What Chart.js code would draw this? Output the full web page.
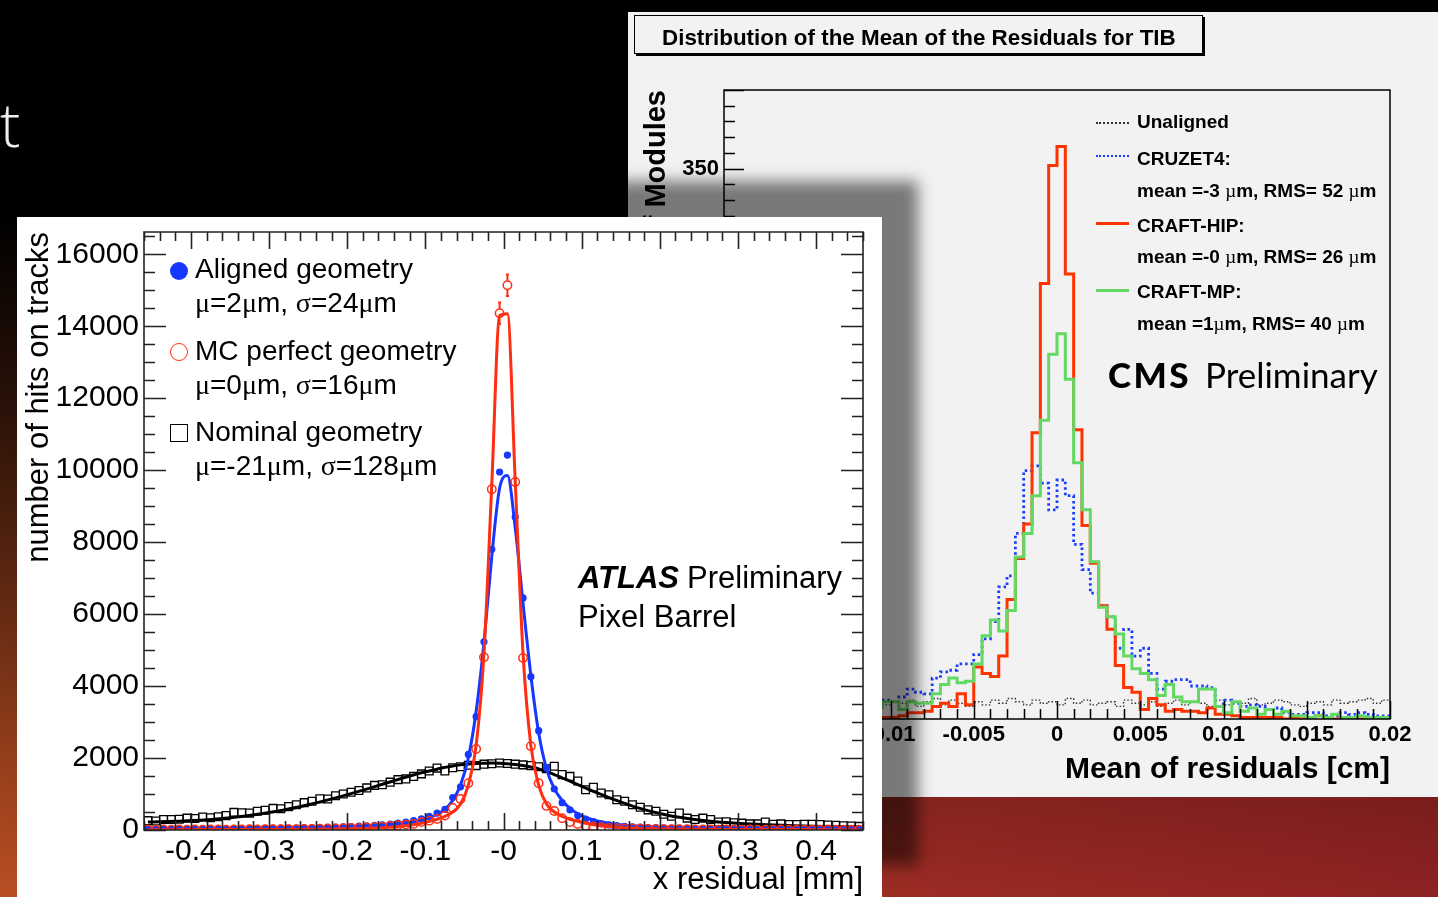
<!DOCTYPE html>
<html><head><meta charset="utf-8">
<script src="https://cdn.jsdelivr.net/npm/chart.js@4.4.1/dist/chart.umd.min.js"></script>
<style>
html,body{margin:0;padding:0;}
body{width:1438px;height:897px;overflow:hidden;position:relative;
 background:
  linear-gradient(180deg,#000 0%,#000 24%,rgba(0,0,0,.78) 45%,rgba(0,0,0,.5) 65%,rgba(0,0,0,.2) 85%,rgba(0,0,0,0) 100%),
  linear-gradient(90deg,#ba4e22 0%,#a63c20 40%,#9c2a24 65%,#8e2222 100%);}
.t{position:absolute;white-space:nowrap;line-height:1;font-family:'Liberation Sans',Arial,Helvetica,sans-serif;color:#000;}
.g{font-family:'Liberation Serif','Times New Roman',serif;}
#cms{position:absolute;left:628px;top:12px;width:830px;height:785px;background:#f2f2f2;}
#atlas{position:absolute;left:17px;top:217px;width:865px;height:684px;background:#fff;box-shadow:36px -36px 14px rgba(0,0,0,.5);}
canvas{position:absolute;left:0;top:0;}
.cmsleg{font-weight:bold;font-size:19px;}
.ln{position:absolute;left:1096px;width:33px;height:0;}
</style>
</head><body>
<div class="t" style="left:0px;top:93px;font-family:'Open Sans',sans-serif;font-weight:300;font-size:61px;color:#eee;">t</div>

<div id="cms"><canvas id="cmsCanvas" width="810" height="785" style="width:810px;height:785px"></canvas></div>
<div style="position:absolute;left:634px;top:15px;width:567px;height:37px;border:1.5px solid #000;box-shadow:2px 2px 0 #000;background:#f2f2f2;"></div>
<div class="t" style="left:662px;top:27.4px;font-weight:bold;font-size:22.4px;">Distribution of the Mean of the Residuals for TIB</div>

<div class="ln" style="top:121.5px;border-top:2px dotted #333;"></div>
<div class="ln" style="top:154.5px;border-top:2.5px dotted #1a3cff;"></div>
<div class="ln" style="top:221.8px;border-top:3px solid #ff3300;"></div>
<div class="ln" style="top:288.5px;border-top:3px solid #63d963;"></div>
<div class="t cmsleg" style="left:1137px;top:112.2px;">Unaligned</div>
<div class="t cmsleg" style="left:1137px;top:148.9px;">CRUZET4:</div>
<div class="t cmsleg" style="left:1137px;top:180.6px;">mean =-3 <span class="g" style="font-weight:normal">µ</span>m, RMS= 52 <span class="g" style="font-weight:normal">µ</span>m</div>
<div class="t cmsleg" style="left:1137px;top:215.6px;">CRAFT-HIP:</div>
<div class="t cmsleg" style="left:1137px;top:247.2px;">mean =-0 <span class="g" style="font-weight:normal">µ</span>m, RMS= 26 <span class="g" style="font-weight:normal">µ</span>m</div>
<div class="t cmsleg" style="left:1137px;top:282.2px;">CRAFT-MP:</div>
<div class="t cmsleg" style="left:1137px;top:313.9px;">mean =1<span class="g" style="font-weight:normal">µ</span>m, RMS= 40 <span class="g" style="font-weight:normal">µ</span>m</div>
<div class="t" style="left:1108px;top:357px;font-family:Lato,'Open Sans',sans-serif;font-weight:900;font-size:35px;letter-spacing:2.5px;">CMS</div>
<div class="t" style="left:1205px;top:357px;font-family:Lato,'Open Sans',sans-serif;font-weight:400;font-size:35px;">Preliminary</div>

<div id="atlas"><canvas id="atlasCanvas" width="865" height="680" style="width:865px;height:680px"></canvas></div>
<div style="position:absolute;left:170px;top:261.7px;width:18px;height:18px;border-radius:50%;background:#1537ff;"></div>
<div style="position:absolute;left:170px;top:342.7px;width:18px;height:18px;border-radius:50%;border:1.5px solid #ff2d12;box-sizing:border-box;"></div>
<div style="position:absolute;left:170px;top:424px;width:18px;height:18px;border:1.5px solid #000;box-sizing:border-box;"></div>
<div class="t" style="left:195px;top:255.3px;font-size:28px;">Aligned geometry</div>
<div class="t" style="left:195px;top:289.3px;font-size:28px;"><span class="g">μ</span>=2<span class="g">μ</span>m, <span class="g">σ</span>=24<span class="g">μ</span>m</div>
<div class="t" style="left:195px;top:337.3px;font-size:28px;">MC perfect geometry</div>
<div class="t" style="left:195px;top:371.3px;font-size:28px;"><span class="g">μ</span>=0<span class="g">μ</span>m, <span class="g">σ</span>=16<span class="g">μ</span>m</div>
<div class="t" style="left:195px;top:418.3px;font-size:28px;">Nominal geometry</div>
<div class="t" style="left:195px;top:452.3px;font-size:28px;"><span class="g">μ</span>=-21<span class="g">μ</span>m, <span class="g">σ</span>=128<span class="g">μ</span>m</div>
<div class="t" style="left:578px;top:561.8px;font-size:31px;font-weight:bold;font-style:italic;">ATLAS</div>
<div class="t" style="left:687px;top:561.8px;font-size:31px;">Preliminary</div>
<div class="t" style="left:578px;top:600.8px;font-size:31px;">Pixel Barrel</div>

<script>
// ---------------- ATLAS (Pixel Barrel x residuals) ----------------
const atlasXTicks = [-0.4, -0.3, -0.2, -0.1, 0, 0.1, 0.2, 0.3, 0.4];
const atlasXTickLabels = ['-0.4', '-0.3', '-0.2', '-0.1', '-0', '0.1', '0.2', '0.3', '0.4'];
const atlasYTicks = [0, 2000, 4000, 6000, 8000, 10000, 12000, 14000, 16000];

// bin contents, 92 bins of 0.01 mm from -0.46 to 0.46
const atlasAligned = [30,25,30,25,30,30,30,35,30,35,35,40,40,40,45,45,50,50,55,55,60,65,70,75,80,90,95,105,115,130,145,165,190,220,260,310,380,470,575,900,1200,2100,3150,5230,7800,9950,
  10420,8700,6450,4260,2760,1730,1140,760,560,400,300,230,170,140,120,100,90,80,70,65,60,55,50,45,45,40,40,35,35,35,30,30,30,30,25,30,25,25,30,25,25,25,20,25,30,40];
const atlasMc = [15,10,15,10,15,10,15,10,15,15,10,15,15,20,15,20,20,20,25,25,30,30,35,40,45,50,55,60,70,80,90,110,130,150,170,220,260,305,400,610,860,1300,2250,4800,9470,14360,
  15140,9670,4780,2330,1300,670,530,330,220,170,120,100,80,60,50,45,40,35,30,25,25,20,20,20,15,15,15,10,15,10,10,15,10,10,10,15,10,10,10,10,10,15,10,10,10,10];
const atlasNominal = [260,250,290,290,300,330,320,360,340,370,400,490,480,470,520,550,600,590,650,700,760,800,870,860,950,1000,1050,1100,1170,1240,1260,1330,1400,1420,1490,1560,1640,1720,1640,1730,1760,1800,1790,1830,1840,1860,
  1850,1830,1810,1790,1760,1700,1770,1540,1490,1360,1120,1190,1030,980,840,800,700,630,560,520,440,380,470,330,290,330,290,220,230,200,190,170,170,220,160,170,150,150,160,160,150,140,130,120,110,100];
const atlasMcErrX = [-0.015, -0.005, 0.005, 0.015];
const atlasMcErr = [110, 300, 300, 110];

// fit curves
const atlasFitX = [-0.455,-0.41,-0.37,-0.33,-0.29,-0.25,-0.21,-0.17,-0.14,-0.12,-0.105,-0.095,-0.085,-0.075,-0.065,-0.055,-0.045,-0.035,-0.025,-0.015,-0.005,
  0.005,0.015,0.025,0.035,0.045,0.055,0.065,0.075,0.085,0.095,0.105,0.12,0.14,0.17,0.21,0.25,0.29,0.33,0.37,0.41,0.455];
const atlasAlignedFit = [25,28,32,38,48,60,80,115,165,215,280,340,430,580,820,1250,2000,3300,5200,7600,9500,
  9850,8400,6300,4300,2700,1700,1150,820,600,450,350,250,170,110,75,55,45,38,32,28,25];
const atlasMcFit = [10,10,12,14,17,22,30,50,85,130,190,240,300,380,500,720,1250,2350,4900,9600,14300,
  14350,9700,4900,2350,1250,720,500,380,300,240,190,130,85,50,30,22,17,14,12,10,10];
const atlasNominalFit = [220,250,300,390,520,700,920,1170,1370,1500,1590,1640,1690,1740,1780,1810,1835,1850,1858,1860,1855,
  1840,1820,1790,1750,1700,1620,1540,1450,1360,1260,1170,1030,860,630,410,280,200,150,120,100,90];

// ---------------- CMS (TIB mean of residuals) ----------------
const cmsXTicks = [-0.02, -0.015, -0.01, -0.005, 0, 0.005, 0.01, 0.015, 0.02];
const cmsXTickLabels = ['-0.02', '-0.015', '-0.01', '-0.005', '0', '0.005', '0.01', '0.015', '0.02'];
const cmsYTicks = [0, 50, 100, 150, 200, 250, 300, 350];
// 80 bins of 0.0005 cm from -0.02 to 0.02
const cmsUnaligned = [9,11,8,12,10,9,13,11,10,12,9,11,10,13,11,9,12,10,11,
  9,11,10,12,8,11,13,9,12,10,8,11,9,12,10,13,11,9,12,10,11,9,13,10,12,9,10,11,8,12,10,9,11,8,10,12,9,11,10,8,12,9,11,10,13,9,10,12,11,9,8,10,11,9,12,10,11,12,13,10,12];
const cmsCruzet4 = [4,6,3,5,8,5,7,9,6,10,8,12,9,11,14,10,13,15,12,
  12,11,14,19,17,16,26,30,31,35,35,41,51,62,84,91,118,158,161,150,133,152,142,111,95,80,72,65,45,57,40,45,29,19,24,25,25,21,21,20,8,12,10,8,9,8,6,7,4,3,3,4,4,2,2,4,3,4,3,2,2];
const cmsCraftHip = [0,0,1,0,0,1,0,0,1,0,1,0,1,1,0,1,1,2,1,
  1,1,2,4,4,5,8,10,8,16,9,33,29,27,40,76,102,124,182,277,352,364,283,184,123,99,72,57,34,20,17,6,13,9,5,6,5,5,4,7,3,3,2,1,1,1,1,1,0,1,0,1,2,1,0,1,0,0,1,0,0];
const cmsCraftMp = [1,0,2,1,1,2,3,1,2,3,2,4,3,5,4,6,5,8,7,
  11,11,6,11,10,10,16,22,26,23,24,35,53,63,56,69,103,118,142,190,232,245,216,163,133,100,71,65,54,40,32,29,25,15,22,14,11,11,19,19,8,4,11,5,7,3,6,3,5,2,2,1,2,1,3,1,1,2,1,1,1];

// ---------------- helpers ----------------
const FONT = "'Liberation Sans', Arial, Helvetica, sans-serif";
Chart.defaults.font.family = FONT;
Chart.defaults.color = '#000';
const RED = '#ff2d12', BLUE = '#1537ff';

const atlasX = atlasAligned.map((_, i) => -0.455 + 0.01 * i);
const cmsEdges = cmsCraftHip.map((_, i) => -0.02 + 0.0005 * i);
const pts = (xs, ys) => xs.map((xv, i) => ({x: xv, y: ys[i]}));
const hist = vals => pts(cmsEdges, vals).concat([{x: 0.02, y: vals[vals.length - 1]}]);
const setTicks = values => scale => { scale.ticks = values.map(v => ({value: v})); };

function tickValues(min, max, step) {
  const out = [];
  const n0 = Math.ceil(min / step - 1e-6), n1 = Math.floor(max / step + 1e-6);
  for (let n = n0; n <= n1; n++) out.push(n * step);
  return out;
}
const isMult = (v, s) => Math.abs(v / s - Math.round(v / s)) < 1e-6;

const rootFrame = {
  id: 'rootFrame',
  afterDatasetsDraw(chart, args, o) {
    const {ctx, chartArea: a, scales: {x, y}} = chart;
    ctx.save();
    ctx.strokeStyle = o.color || '#000';
    ctx.lineWidth = o.width || 1.5;
    ctx.beginPath();
    ctx.rect(a.left, a.top, a.right - a.left, a.bottom - a.top);
    for (const v of tickValues(x.min, x.max, o.xMinor)) {
      const len = isMult(v, o.xMajor) ? o.xMajorLen : o.xMinorLen;
      const px = Math.round(x.getPixelForValue(v)) + 0.5;
      ctx.moveTo(px, a.bottom); ctx.lineTo(px, a.bottom - len);
      if (o.mirror) { ctx.moveTo(px, a.top); ctx.lineTo(px, a.top + len); }
    }
    for (const v of tickValues(y.min, y.max, o.yMinor)) {
      const len = isMult(v, o.yMajor) ? o.yMajorLen : o.yMinorLen;
      const py = Math.round(y.getPixelForValue(v)) + 0.5;
      ctx.moveTo(a.left, py); ctx.lineTo(a.left + len, py);
      if (o.mirror) { ctx.moveTo(a.right, py); ctx.lineTo(a.right - len, py); }
    }
    ctx.stroke();
    ctx.restore();
  }
};

const errBars = {
  id: 'errBars',
  afterDatasetsDraw(chart, args, o) {
    if (!o.enabled) return;
    const {ctx, scales: {x, y}} = chart;
    ctx.save();
    ctx.strokeStyle = RED; ctx.lineWidth = 2;
    ctx.beginPath();
    atlasMcErrX.forEach((xv, i) => {
      const idx = atlasX.findIndex(c => Math.abs(c - xv) < 1e-6);
      const v = atlasMc[idx];
      const px = x.getPixelForValue(xv), py = y.getPixelForValue(v);
      const top = y.getPixelForValue(v + atlasMcErr[i]), bot = y.getPixelForValue(v - atlasMcErr[i]);
      ctx.moveTo(px, top); ctx.lineTo(px, py - 4.5);
      ctx.moveTo(px, py + 4.5); ctx.lineTo(px, bot);
      ctx.moveTo(px - 1.5, top); ctx.lineTo(px + 1.5, top);
      ctx.moveTo(px - 1.5, bot); ctx.lineTo(px + 1.5, bot);
    });
    ctx.stroke();
    ctx.restore();
  }
};

// ---------------- ATLAS chart ----------------
new Chart(document.getElementById('atlasCanvas'), {
  type: 'line',
  data: {
    datasets: [
      {label: 'MC fit', data: pts(atlasFitX, atlasMcFit), borderColor: RED, borderWidth: 3, pointRadius: 0, cubicInterpolationMode: 'monotone', order: 0},
      {label: 'MC perfect geometry', data: pts(atlasX, atlasMc), showLine: false, pointStyle: 'circle', pointRadius: 4.2, pointBorderWidth: 1.5, pointBorderColor: RED, pointBackgroundColor: 'rgba(255,255,255,0)', order: 1},
      {label: 'Aligned fit', data: pts(atlasFitX, atlasAlignedFit), borderColor: BLUE, borderWidth: 3, pointRadius: 0, cubicInterpolationMode: 'monotone', order: 2},
      {label: 'Aligned geometry', data: pts(atlasX, atlasAligned), showLine: false, pointStyle: 'circle', pointRadius: 3.6, pointBorderWidth: 0, pointBackgroundColor: BLUE, pointBorderColor: BLUE, order: 3},
      {label: 'Nominal fit', data: pts(atlasFitX, atlasNominalFit), borderColor: '#000', borderWidth: 3, pointRadius: 0, cubicInterpolationMode: 'monotone', order: 4},
      {label: 'Nominal geometry', data: pts(atlasX, atlasNominal), showLine: false, pointStyle: 'rect', pointRadius: 5.5, pointBorderWidth: 1.3, pointBorderColor: '#000', pointBackgroundColor: 'rgba(255,255,255,0)', order: 5}
    ]
  },
  options: {
    responsive: false, animation: false, devicePixelRatio: 1,
    layout: {padding: {left: 0, right: 19, top: 15, bottom: 0}},
    plugins: {
      legend: {display: false}, tooltip: {enabled: false},
      rootFrame: {color: '#222', width: 1.6, xMajor: 0.1, xMinor: 0.02, xMajorLen: 17, xMinorLen: 9, yMajor: 2000, yMinor: 500, yMajorLen: 22, yMinorLen: 11, mirror: true},
      errBars: {enabled: true}
    },
    scales: {
      x: {
        type: 'linear', min: -0.46, max: 0.46,
        grid: {display: false, drawTicks: false}, border: {display: false},
        ticks: {font: {size: 30}, padding: 4, maxRotation: 0, autoSkip: false, callback: (v, i) => atlasXTickLabels[i]},
        afterBuildTicks: setTicks(atlasXTicks),
        afterFit: s => { s.height = 67; },
        title: {display: true, text: 'x residual [mm]', align: 'end', font: {size: 31, lineHeight: 1}, padding: {top: 0, bottom: 1.5}}
      },
      y: {
        type: 'linear', min: 0, max: 16620,
        grid: {display: false, drawTicks: false}, border: {display: false},
        ticks: {font: {size: 30, lineHeight: 0.5}, padding: 5, autoSkip: false, callback: v => String(v)},
        afterBuildTicks: setTicks(atlasYTicks),
        afterFit: s => { s.width = 127; },
        title: {display: true, text: 'number of hits on tracks', align: 'end', font: {size: 31, lineHeight: 1}, padding: {top: 7, bottom: 0}}
      }
    }
  },
  plugins: [rootFrame, errBars]
});

// ---------------- CMS chart ----------------
new Chart(document.getElementById('cmsCanvas'), {
  type: 'line',
  data: {
    datasets: [
      {label: 'CRAFT-MP', data: hist(cmsCraftMp), stepped: 'before', borderColor: '#63d963', borderWidth: 3, pointRadius: 0, order: 0},
      {label: 'CRAFT-HIP', data: hist(cmsCraftHip), stepped: 'before', borderColor: '#ff3300', borderWidth: 3, pointRadius: 0, order: 1},
      {label: 'CRUZET4', data: hist(cmsCruzet4), stepped: 'before', borderColor: '#1a3cff', borderWidth: 2.8, borderDash: [2.5, 3], pointRadius: 0, order: 2},
      {label: 'Unaligned', data: hist(cmsUnaligned), stepped: 'before', borderColor: '#333', borderWidth: 1.4, borderDash: [1.5, 2], pointRadius: 0, order: 3}
    ]
  },
  options: {
    responsive: false, animation: false, devicePixelRatio: 1,
    layout: {padding: {left: 0, right: 48, top: 78, bottom: 0}},
    plugins: {
      legend: {display: false}, tooltip: {enabled: false},
      rootFrame: {color: '#000', width: 1.5, xMajor: 0.005, xMinor: 0.001, xMajorLen: 18, xMinorLen: 10, yMajor: 50, yMinor: 10, yMajorLen: 20, yMinorLen: 11, mirror: false},
      errBars: {enabled: false}
    },
    scales: {
      x: {
        type: 'linear', min: -0.02, max: 0.02,
        grid: {display: false, drawTicks: false}, border: {display: false},
        ticks: {font: {size: 22, weight: 'bold'}, padding: 3, maxRotation: 0, autoSkip: false, callback: (v, i) => cmsXTickLabels[i]},
        afterBuildTicks: setTicks(cmsXTicks),
        afterFit: s => { s.height = 78; },
        title: {display: true, text: 'Mean of residuals [cm]', align: 'end', font: {size: 30, weight: 'bold', lineHeight: 1}, padding: {top: 0, bottom: 12.5}}
      },
      y: {
        type: 'linear', min: 0, max: 400,
        grid: {display: false, drawTicks: false}, border: {display: false},
        ticks: {font: {size: 22, weight: 'bold', lineHeight: 0.5}, padding: 5, autoSkip: false, callback: v => String(v)},
        afterBuildTicks: setTicks(cmsYTicks),
        afterFit: s => { s.width = 96; },
        title: {display: true, text: 'Number of Modules', align: 'end', font: {size: 29, weight: 'bold', lineHeight: 1}, padding: {top: 14.5, bottom: 0}}
      }
    }
  },
  plugins: [rootFrame, errBars]
});
</script>
</body></html>
